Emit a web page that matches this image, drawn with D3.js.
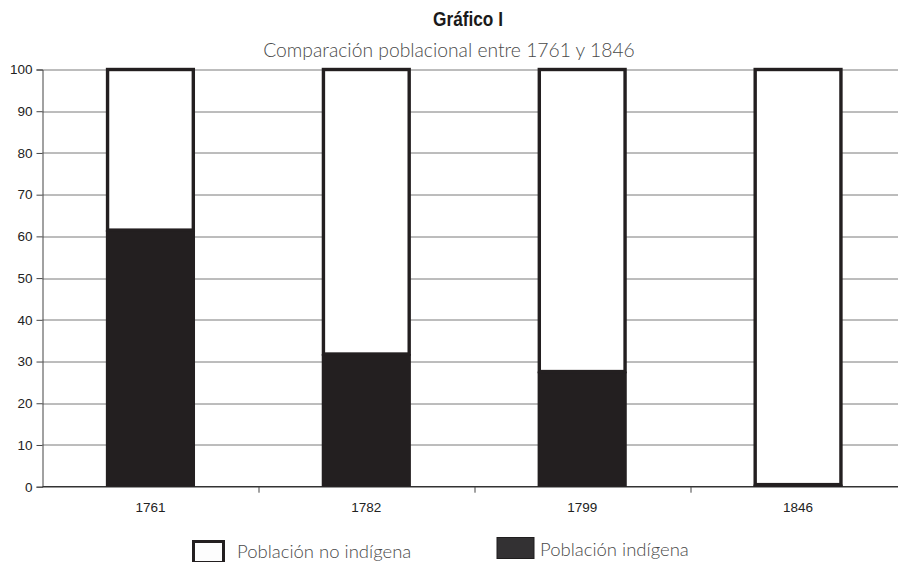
<!DOCTYPE html>
<html>
<head>
<meta charset="utf-8">
<script src="https://cdn.jsdelivr.net/npm/d3@7"></script>
<style>
  body { margin: 0; background: #fff; }
  svg { display: block; }
</style>
</head>
<body>
<svg id="chart"></svg>
<script>
const years = ["1761", "1782", "1799", "1846"];
const indigena = [61.5, 31.8, 27.6, 0.5];
const noIndigena = indigena.map((v) => 100 - v);
const yTicks = [0, 10, 20, 30, 40, 50, 60, 70, 80, 90, 100];

const W = 898, H = 562;
const margin = { top: 69.5, right: -8, bottom: 75.3, left: 42.5 };
const width = W - margin.left - margin.right;
const height = H - margin.top - margin.bottom;

const svg = d3.select("#chart").attr("width", W).attr("height", H);
const g = svg.append("g").attr("transform", `translate(${margin.left},${margin.top})`);

const x = d3.scaleBand().domain(years).range([0, width]).padding(0);
const y = d3.scaleLinear().domain([0, 100]).range([height, 0]);

const ink = "#231f20";
const barFrac = 0.413;
const tickFont = "'Liberation Sans', Arial, sans-serif";
const lightFont = "Lato, 'Open Sans', sans-serif";

// gridlines
g.selectAll(".grid")
  .data(yTicks.filter((d) => d > 0))
  .enter()
  .append("line")
  .attr("x1", 0)
  .attr("x2", width)
  .attr("y1", (d) => Math.round(y(d)) + 0.5)
  .attr("y2", (d) => Math.round(y(d)) + 0.5)
  .attr("stroke", "#7a7a7a")
  .attr("stroke-width", 1);

// y axis
const yAxis = g.append("g").call(d3.axisLeft(y).tickValues(yTicks).tickSize(6).tickPadding(4));
yAxis.select(".domain").attr("stroke", "#444");
yAxis.selectAll(".tick line").attr("stroke", "#444");
yAxis.selectAll("text")
  .attr("font-family", tickFont)
  .attr("font-size", 13.5)
  .attr("fill", "#222");

// x axis: ticks on band boundaries
const xAxis = g.append("g").attr("transform", `translate(0,${height})`);
xAxis.append("line")
  .attr("x1", 0).attr("x2", width)
  .attr("stroke", "#333").attr("stroke-width", 1.5);
xAxis.selectAll(".bt")
  .data(years.slice(1))
  .enter()
  .append("line")
  .attr("x1", (d) => Math.round(x(d)) + 0.5)
  .attr("x2", (d) => Math.round(x(d)) + 0.5)
  .attr("y1", 0).attr("y2", 6)
  .attr("stroke", "#444");
xAxis.selectAll(".lbl")
  .data(years)
  .enter()
  .append("text")
  .attr("x", (d) => x(d) + x.bandwidth() / 2)
  .attr("y", 25)
  .attr("text-anchor", "middle")
  .attr("font-family", tickFont)
  .attr("font-size", 13.5)
  .attr("fill", "#222")
  .text((d) => d);

// bars
const bw = x.bandwidth() * barFrac;
const bx = (d) => x(d) + (x.bandwidth() - bw) / 2;
const sw = 3.4;

g.selectAll(".ind")
  .data(years)
  .enter()
  .append("rect")
  .attr("x", (d) => bx(d))
  .attr("width", bw)
  .attr("y", (d, i) => y(indigena[i]))
  .attr("height", (d, i) => height - y(indigena[i]))
  .attr("fill", ink);

g.selectAll(".noind")
  .data(years)
  .enter()
  .append("rect")
  .attr("x", (d) => bx(d) + sw / 2)
  .attr("width", bw - sw)
  .attr("y", (d, i) => y(indigena[i] + noIndigena[i]))
  .attr("height", (d, i) => y(indigena[i]) - y(indigena[i] + noIndigena[i]))
  .attr("fill", "#fff")
  .attr("stroke", ink)
  .attr("stroke-width", sw);

// titles (condensed bold title squeezed horizontally)
const title = svg.append("text")
  .attr("font-family", tickFont)
  .attr("font-weight", "bold")
  .attr("font-size", 19.5)
  .attr("fill", "#1a1a1a")
  .attr("text-anchor", "middle")
  .text("Gráfico I");
const tw = title.node().getComputedTextLength();
const sx = 70 / tw;
title.attr("transform", `translate(468,26) scale(${sx},1)`);

svg.append("text")
  .attr("x", 449).attr("y", 57)
  .attr("text-anchor", "middle")
  .attr("font-family", lightFont)
  .attr("font-weight", 300)
  .attr("font-size", 19.3)
  .attr("fill", "#4a4a4a")
  .text("Comparación poblacional entre 1761 y 1846");

// legend
const legend = [
  { label: "Población no indígena", fill: "#fdfdfd", stroke: ink, sw: 3, x: 193.5, y: 541.5, w: 30, h: 21, tx: 237, ty: 557.5 },
  { label: "Población indígena", fill: "#333133", stroke: "#1f1d1e", sw: 1, x: 497, y: 537.5, w: 37, h: 21, tx: 540, ty: 555.5 }
];
const lg = svg.append("g");
lg.selectAll("rect")
  .data(legend)
  .enter()
  .append("rect")
  .attr("x", (d) => d.x)
  .attr("y", (d) => d.y)
  .attr("width", (d) => d.w)
  .attr("height", (d) => d.h)
  .attr("fill", (d) => d.fill)
  .attr("stroke", (d) => d.stroke)
  .attr("stroke-width", (d) => d.sw);
lg.selectAll("text")
  .data(legend)
  .enter()
  .append("text")
  .attr("x", (d) => d.tx)
  .attr("y", (d) => d.ty)
  .attr("font-family", lightFont)
  .attr("font-weight", 300)
  .attr("font-size", 18.5)
  .attr("fill", "#4a4a4a")
  .text((d) => d.label);
</script>
</body>
</html>
